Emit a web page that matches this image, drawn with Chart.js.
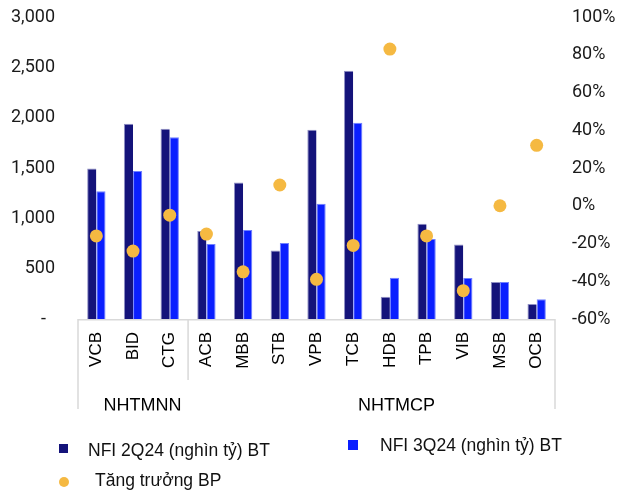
<!DOCTYPE html>
<html>
<head>
<meta charset="utf-8">
<script src="https://cdn.jsdelivr.net/npm/chart.js@4/dist/chart.umd.min.js"></script>
<style>
html,body{margin:0;padding:0;background:#fff;}
#wrap{width:618px;height:496px;position:relative;}
</style>
</head>
<body>
<div id="wrap"><canvas id="c"></canvas></div>
<script>
const categories = ['VCB','BID','CTG','ACB','MBB','STB','VPB','TCB','HDB','TPB','VIB','MSB','OCB'];
const nfi2Q24 = [1495, 1940, 1890, 875, 1355, 680, 1880, 2465, 220, 945, 740, 368, 148];
const nfi3Q24 = [1270, 1470, 1805, 745, 885, 755, 1145, 1950, 410, 795, 408, 368, 195];
const growthBP = [-16, -24, -5, -15, -35, 11, -39, -21, 83, -16, -45, 0, 32];
const groups = [
  {label: 'NHTMNN', from: 0, to: 2},
  {label: 'NHTMCP', from: 3, to: 12}
];
const seriesNames = ['NFI 2Q24 (nghìn tỷ) BT', 'NFI 3Q24 (nghìn tỷ) BT', 'Tăng trưởng BP'];

const DARK = '#14137A', BLUE = '#0A1FFF', GOLD = '#F5B942';
const LINE = '#d9d9d9';

const overlay = {
  id: 'overlay',
  afterDraw(chart) {
    const ctx = chart.ctx;
    const x = chart.scales.x;
    const a = chart.chartArea;
    ctx.save();
    ctx.strokeStyle = LINE;
    ctx.lineWidth = 1.5;
    ctx.beginPath();
    ctx.moveTo(a.left, a.bottom + 0.75); ctx.lineTo(a.right, a.bottom + 0.75);
    ctx.moveTo(a.left, a.bottom); ctx.lineTo(a.left, 409);
    ctx.moveTo(a.right, a.bottom); ctx.lineTo(a.right, 409);
    const sep = (x.getPixelForValue(2) + x.getPixelForValue(3)) / 2;
    ctx.moveTo(sep, a.bottom); ctx.lineTo(sep, 380);
    ctx.stroke();
    // group labels (slightly clipped at bottom as in the reference)
    ctx.save();
    ctx.beginPath();
    ctx.rect(0, 0, 618, 410.5);
    ctx.clip();
    ctx.fillStyle = '#000';
    ctx.font = '18px "Liberation Sans", Arial, sans-serif';
    ctx.textAlign = 'center';
    ctx.textBaseline = 'alphabetic';
    ctx.fillText(groups[0].label, 142.5, 411);
    ctx.fillText(groups[1].label, 396.5, 411);
    ctx.restore();
    // legend
    ctx.font = '17.5px "Liberation Sans", Arial, sans-serif';
    ctx.textAlign = 'left';
    ctx.textBaseline = 'middle';
    ctx.fillStyle = DARK;
    ctx.fillRect(59, 444, 9, 9);
    ctx.fillStyle = '#111';
    ctx.fillText(seriesNames[0], 88, 451);
    ctx.fillStyle = BLUE;
    ctx.fillRect(348, 440, 10, 10);
    ctx.fillStyle = '#111';
    ctx.fillText(seriesNames[1], 380, 446);
    ctx.fillStyle = GOLD;
    ctx.beginPath();
    ctx.arc(64, 482, 5, 0, Math.PI * 2);
    ctx.fill();
    ctx.fillStyle = '#111';
    ctx.fillText(seriesNames[2], 95, 481);
    ctx.restore();
  }
};

new Chart(document.getElementById('c'), {
  data: {
    labels: categories,
    datasets: [
      {
        type: 'line', label: seriesNames[2], data: growthBP, yAxisID: 'y1',
        showLine: false, pointRadius: 6.5, pointHoverRadius: 6.5,
        pointBackgroundColor: GOLD, pointBorderWidth: 0, borderColor: GOLD, order: 0
      },
      {
        type: 'bar', label: seriesNames[0], data: nfi2Q24, yAxisID: 'y',
        backgroundColor: DARK, borderColor: '#8f8fc4', borderWidth: {top: 1, left: 1, right: 0, bottom: 0},
        categoryPercentage: 0.5, barPercentage: 1, order: 1
      },
      {
        type: 'bar', label: seriesNames[1], data: nfi3Q24, yAxisID: 'y',
        backgroundColor: BLUE, borderColor: '#7080ff', borderWidth: {top: 1, left: 1, right: 1, bottom: 0},
        categoryPercentage: 0.5, barPercentage: 1, order: 1
      }
    ]
  },
  options: {
    responsive: true,
    maintainAspectRatio: false,
    animation: false,
    layout: {padding: {top: 17, left: 0, right: 0, bottom: 0}},
    plugins: {legend: {display: false}, tooltip: {enabled: false}},
    scales: {
      x: {
        offset: true,
        grid: {display: false, drawTicks: false},
        border: {display: false},
        ticks: {
          maxRotation: 90, minRotation: 90, padding: 13, autoSkip: false,
          color: '#000', font: {family: '"Liberation Sans", Arial, sans-serif', size: 17}
        },
        afterFit(s) { s.height = 177; s.paddingLeft = 0; s.paddingRight = 0; }
      },
      y: {
        position: 'left', min: 0, max: 3000,
        grid: {display: false, drawTicks: false},
        border: {display: false},
        ticks: {
          stepSize: 500, padding: 23, color: '#1a1a1a',
          font: {family: 'Roboto, sans-serif', size: 18},
          callback: v => v === 0 ? '-  ' : v.toLocaleString('en-US')
        },
        afterFit(s) { s.width = 78; s.paddingTop = 0; s.paddingBottom = 0; }
      },
      y1: {
        position: 'right', min: -60, max: 100,
        grid: {display: false, drawTicks: false},
        border: {display: false},
        ticks: {
          stepSize: 20, padding: 17, color: '#1a1a1a',
          font: {family: 'Roboto, sans-serif', size: 18},
          callback: v => v + '%'
        },
        afterFit(s) { s.width = 63; s.paddingTop = 0; s.paddingBottom = 0; }
      }
    }
  },
  plugins: [overlay]
});
</script>
</body>
</html>
